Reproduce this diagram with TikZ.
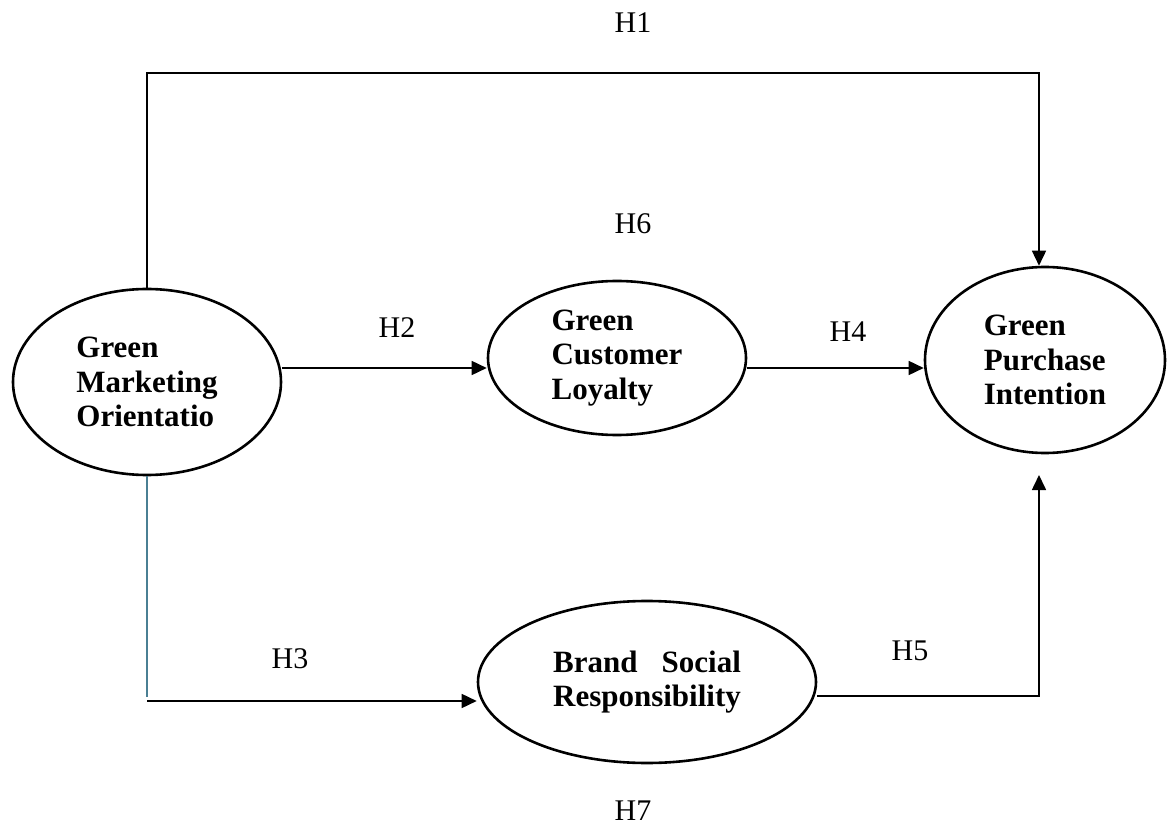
\documentclass[tikz,border=0pt]{standalone}
\usepackage{fontspec}
\setmainfont{Liberation Serif}
\usepackage{calc}
\usetikzlibrary{shapes.geometric,arrows.meta}
\definecolor{ink}{HTML}{000000}
\definecolor{tealline}{HTML}{4A7F93}
\tikzset{
  construct/.style={ellipse, draw=ink, line width=2.6pt, inner sep=0pt, align=left,
    font=\bfseries\fontsize{31}{34.5}\selectfont},
  line/.style={draw=ink, line width=1.6pt},
  tline/.style={draw=tealline, line width=1.6pt},
  arrow/.style={line, -{Triangle[length=15pt,width=14pt]}},
  hyp/.style={anchor=base, font=\fontsize{30}{36}\selectfont}
}

\begin{document}
\begin{tikzpicture}[x=1pt,y=-1pt]
  \useasboundingbox (0,0) rectangle (1168,826);

  % constructs
  \node[construct, minimum width=268pt, minimum height=186pt] (gmo) at (147,382)
    {Green\\Marketing\\Orientatio};
  \node[construct, minimum width=258pt, minimum height=154pt] (gcl) at (617,358)
    {Green\\Customer\\Loyalty};
  \node[construct, minimum width=240pt, minimum height=186pt] (gpi) at (1045,360)
    {Green\\Purchase\\Intention};
  \node[construct, minimum width=338pt, minimum height=162pt] (bsr) at (647,682)
    {\makebox[\widthof{Responsibility}][s]{Brand\hfill Social}\\Responsibility};

  \coordinate (top) at (1039,73);
  \coordinate (mid) at (0,368);
  \coordinate (low) at (147,701);
  \coordinate (h5corner) at (1039,696);
  \coordinate (h5tip) at (1039,475);

  % paths
  \draw[arrow] (gmo.north) |- (top) -- (gpi.north -| top);
  \draw[arrow] (gmo.east |- mid) -- (gcl.west |- mid);
  \draw[arrow] (gcl.east |- mid) -- (gpi.west |- mid);
  \draw[tline] (gmo.south) -- (147,697);
  \draw[arrow] (low) -- (bsr.west |- low);
  \draw[arrow] (bsr.east |- h5corner) -- (h5corner) -- (h5tip);

  \node[hyp] (h1) at (633,33) {H1};
  \node[hyp] (h6) at (633,234) {H6};
  \node[hyp] (h2) at (397,338) {H2};
  \node[hyp] (h4) at (848,342) {H4};
  \node[hyp] (h3) at (290,668) {H3};
  \node[hyp] (h5) at (910,660) {H5};
  \node[hyp] (h7) at (633,820) {H7};
\end{tikzpicture}
\end{document}
